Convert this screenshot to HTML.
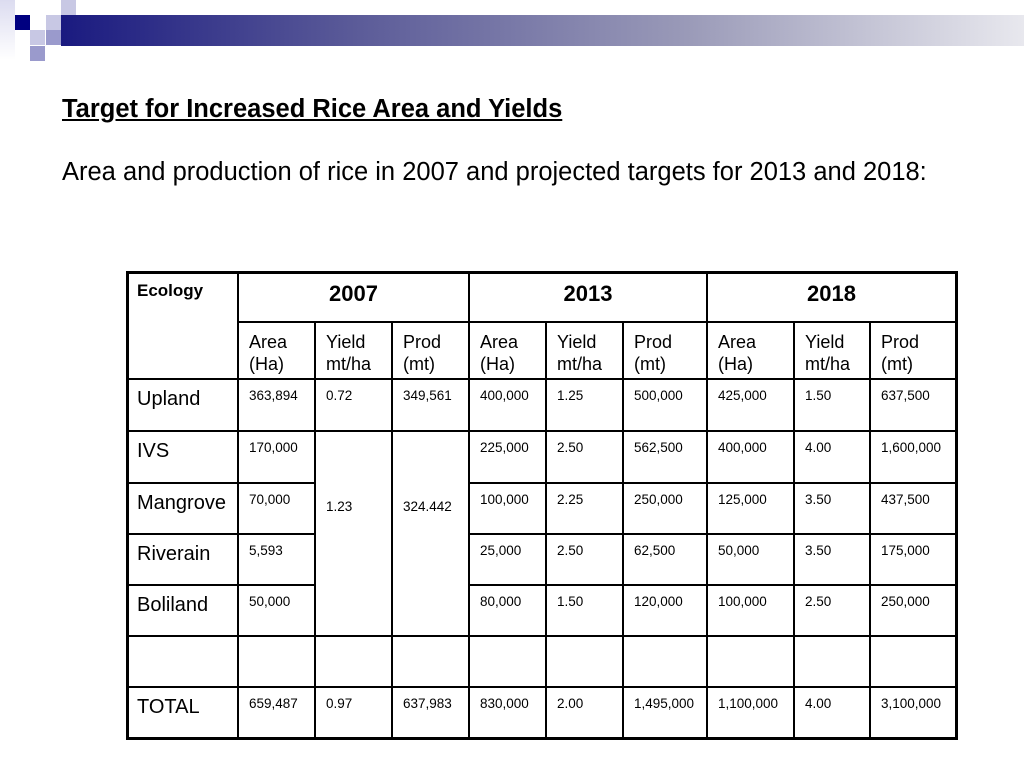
<!DOCTYPE html>
<html><head><meta charset="utf-8"><style>
body{margin:0;width:1024px;height:768px;background:#fff;position:relative;overflow:hidden;font-family:"Liberation Sans",sans-serif;color:#000}
.sq{position:absolute;width:15px;height:15px}
.c{position:absolute;box-sizing:border-box;border-right:2px solid #000;border-bottom:2px solid #000;padding:8px 0 0 10px;font-size:13.5px}
.big{font-size:18px;padding-top:8px;line-height:22px}
.lab{font-size:20px;padding-top:8px}
#tbl{position:absolute;left:126px;top:271px;width:832px;height:469px;box-sizing:border-box;border:3px solid #000;pointer-events:none}
</style></head><body>
<div>
<div class="sq" style="left:0;top:0;width:15px;height:60px;background:linear-gradient(#dcdcf0,#fff)"></div>
<div class="sq" style="left:15px;top:15px;background:#000080"></div>
<div class="sq" style="left:46px;top:15px;background:#c8c8e4"></div>
<div class="sq" style="left:61px;top:0;background:#c8c8e4"></div>
<div class="sq" style="left:61px;top:15px;background:#9a9acc"></div>
<div class="sq" style="left:30px;top:30px;background:#c8c8e4"></div>
<div class="sq" style="left:46px;top:30px;background:#9a9acc"></div>
<div class="sq" style="left:30px;top:46px;background:#9a9acc"></div>
<div style="position:absolute;left:61px;top:15px;width:963px;height:31px;background:linear-gradient(90deg,#1a1a80,#5a5a98 30%,#9a9ab8 65%,#e8e8ee)"></div>
</div>
<div style="position:absolute;left:62px;top:95px;font-size:25.5px;font-weight:bold;text-decoration:underline;white-space:nowrap">Target for Increased Rice Area and Yields</div>
<div style="position:absolute;left:62px;top:158px;font-size:25.5px;white-space:nowrap">Area and production of rice in 2007 and projected targets for 2013 and 2018:</div>
<div id="cells"></div>
<div id="tbl"></div>
<script>
const colX=[127,239,316,393,470,547,624,708,795,871,957];
const rowY=[272,323,380,432,484,535,586,637,688,739];
const years=["2007","2013","2018"];
const subHeads=["Area<br>(Ha)","Yield<br>mt/ha","Prod<br>(mt)"];
const ecologies=["Upland","IVS","Mangrove","Riverain","Boliland","","TOTAL"];
const rows=[
["363,894","0.72","349,561","400,000","1.25","500,000","425,000","1.50","637,500"],
["170,000",null,null,"225,000","2.50","562,500","400,000","4.00","1,600,000"],
["70,000",null,null,"100,000","2.25","250,000","125,000","3.50","437,500"],
["5,593",null,null,"25,000","2.50","62,500","50,000","3.50","175,000"],
["50,000",null,null,"80,000","1.50","120,000","100,000","2.50","250,000"],
["","","","","","","","",""],
["659,487","0.97","637,983","830,000","2.00","1,495,000","1,100,000","4.00","3,100,000"]];
const mergedYield="1.23", mergedProd="324.442";
const root=document.getElementById('cells');
function cell(c0,c1,r0,r1,html,cls,style,name){
  const d=document.createElement('div');
  d.className='c '+(cls||'');
  d.style.left=colX[c0]+'px';d.style.top=rowY[r0]+'px';
  d.style.width=(colX[c1]-colX[c0])+'px';d.style.height=(rowY[r1]-rowY[r0])+'px';
  if(style)d.style.cssText+=style;
  d.innerHTML=html;
  
  
  root.appendChild(d);
}
cell(0,1,0,2,'Ecology','','font-size:17px;font-weight:bold;padding-top:9px','ecology-header');
years.forEach((y,i)=>cell(1+3*i,4+3*i,0,1,y,'','font-size:22px;font-weight:bold;text-align:center;padding:9px 0 0 0','year-header-'+y));
for(let g=0;g<3;g++)subHeads.forEach((s,j)=>cell(1+3*g+j,2+3*g+j,1,2,s,'big','','subheader-'+years[g]+'-'+j));
ecologies.forEach((e,i)=>{
  cell(0,1,2+i,3+i,e,'lab','','row-label-'+(e?e.toLowerCase():'blank'));
  rows[i].forEach((v,j)=>{ if(v!==null) cell(1+j,2+j,2+i,3+i,v,'','','cell-'+i+'-'+j); });
});
cell(2,3,3,7,mergedYield,'','padding-top:67px','merged-yield-2007');
cell(3,4,3,7,mergedProd,'','padding-top:67px','merged-prod-2007');
</script>
</body></html>
